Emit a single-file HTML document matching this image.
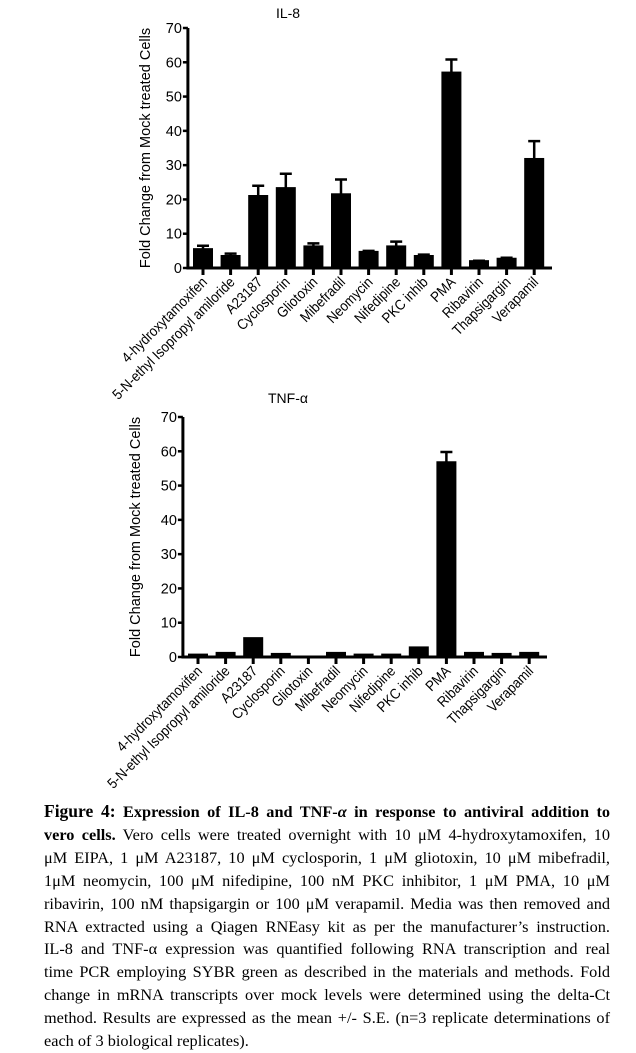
<!DOCTYPE html>
<html><head><meta charset="utf-8">
<style>
body{margin:0;background:#fff;width:636px;height:1049px;overflow:hidden;position:relative}
svg{position:absolute;left:0;top:0}
#cap{position:absolute;left:44px;top:800px;width:566px;font-family:"Liberation Serif",serif;font-size:16.3px;line-height:22.9px;color:#000}
#cap div{text-align:justify;text-align-last:justify;white-space:nowrap}
#cap div.last{text-align-last:left}
</style></head>
<body>
<svg id="chart" width="636" height="800"></svg>
<div id="cap">
<div><b style="font-size:17.5px">Figure 4:</b> <b>Expression of IL-8 and TNF-<i>α</i> in response to antiviral addition to</b></div>
<div><b>vero cells.</b> Vero cells were treated overnight with 10 μM 4-hydroxytamoxifen, 10</div>
<div>μM EIPA, 1 μM A23187, 10 μM cyclosporin, 1 μM gliotoxin, 10 μM mibefradil,</div>
<div>1μM neomycin, 100 μM nifedipine, 100 nM PKC inhibitor, 1 μM PMA, 10 μM</div>
<div>ribavirin, 100 nM thapsigargin or 100 μM verapamil. Media was then removed and</div>
<div>RNA extracted using a Qiagen RNEasy kit as per the manufacturer’s instruction.</div>
<div>IL-8 and TNF-α expression was quantified following RNA transcription and real</div>
<div>time PCR employing SYBR green as described in the materials and methods. Fold</div>
<div>change in mRNA transcripts over mock levels were determined using the delta-Ct</div>
<div>method. Results are expressed as the mean +/- S.E. (n=3 replicate determinations of</div>
<div class="last">each of 3 biological replicates).</div>
</div>
<script>
const categories=["4-hydroxytamoxifen","5-N-ethyl Isopropyl amiloride","A23187","Cyclosporin","Gliotoxin","Mibefradil","Neomycin","Nifedipine","PKC inhib","PMA","Ribavirin","Thapsigargin","Verapamil"];
const il8Values=[5.5,3.5,21,23.3,6.3,21.5,4.7,6.3,3.5,57,2,2.7,31.8];
const il8Errors=[1,0.7,3,4.2,0.9,4.3,0.3,1.4,0.4,3.8,0.1,0.3,5.2];
const tnfValues=[0.7,1.2,5.5,0.9,0.1,1.2,0.7,0.7,2.8,56.8,1.2,0.9,1.2];
const tnfErrors=[0,0,0,0,0,0,0,0,0,3,0,0,0];
const yTicks=[0,10,20,30,40,50,60,70];
const NS="http://www.w3.org/2000/svg";
const svg=document.getElementById('chart');
function mk(tag,attrs,parent){const e=document.createElementNS(NS,tag);for(const k in attrs)e.setAttribute(k,attrs[k]);(parent||svg).appendChild(e);return e;}
function drawChart(cfg,values,errors,title,key){
  const g=mk('g',{});
  
  
  const y=v=>cfg.y0-(v/70)*(cfg.y0-cfg.y70);
  const x=i=>cfg.x0+i*cfg.step;
  const t=mk('text',{x:cfg.titleX,y:cfg.titleY,'text-anchor':'middle','font-family':'Liberation Sans, sans-serif','font-size':14},g);
  t.textContent=title;
  
  
  values.forEach((v,i)=>{
    const cx=x(i);
    const e=errors[i];
    if(e>0){
      const eb=mk('path',{d:`M${cx} ${y(v)} V${y(v+e)} M${cx-6} ${y(v+e)} H${cx+6}`,stroke:'#000','stroke-width':2.5,fill:'none'},g);
      
      
    }
    const r=mk('rect',{x:cx-10,y:y(v)-1,width:20,height:Math.max(cfg.y0-y(v)+1,1),fill:'#000'},g);
    
    
    const tk=mk('line',{x1:cx,x2:cx,y1:cfg.y0,y2:cfg.y0+7,stroke:'#000','stroke-width':3},g);
    
    
    const lb=mk('text',{x:0,y:0,'text-anchor':'end','font-family':'Liberation Sans, sans-serif','font-size':14.5,transform:`translate(${cx+5},${cfg.y0+15}) rotate(-45) scale(0.9,1)`},g);
    lb.textContent=categories[i];
    
    
  });
  const axX=cfg.x0-cfg.step+12.5;
  const ax=mk('path',{d:`M${axX} ${cfg.y70} V${cfg.y0} H${cfg.xEnd}`,stroke:'#000','stroke-width':3,fill:'none'},g);
  
  
  yTicks.forEach(v=>{
    const l=mk('line',{x1:axX-5,x2:axX,y1:y(v),y2:y(v),stroke:'#000','stroke-width':2.5},g);
    
    
    const tx=mk('text',{x:axX-6,y:y(v)+5,'text-anchor':'end','font-family':'Liberation Sans, sans-serif','font-size':14.5},g);
    tx.textContent=v;
    
    
  });
  const yt=mk('text',{x:0,y:0,'text-anchor':'middle','font-family':'Liberation Sans, sans-serif','font-size':14.5,transform:`translate(${cfg.yTitleX},${(cfg.y0+cfg.y70)/2}) rotate(-90)`},g);
  yt.textContent='Fold Change from Mock treated Cells';
  
  
}
drawChart({x0:203,step:27.6,y0:268,y70:28,xEnd:552,titleX:288,titleY:18,yTitleX:150},il8Values,il8Errors,'IL-8','il8');
drawChart({x0:198,step:27.6,y0:657,y70:417,xEnd:547,titleX:288,titleY:403,yTitleX:140},tnfValues,tnfErrors,'TNF-α','tnf');
</script>
</body></html>
